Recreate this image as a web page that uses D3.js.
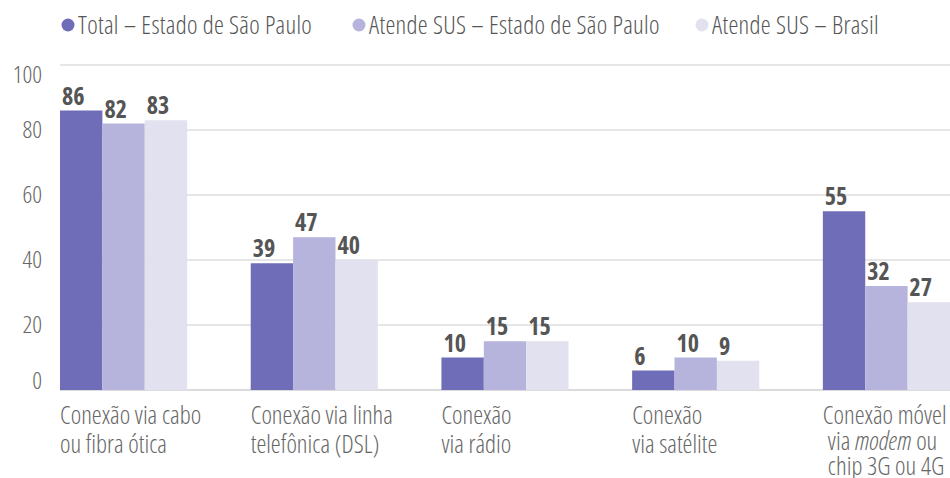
<!DOCTYPE html>
<html><head><meta charset="utf-8">
<script src="https://cdn.jsdelivr.net/npm/d3@7"></script>
<style>
html,body{margin:0;padding:0;background:#fff;}
svg text{font-family:"Open Sans",sans-serif;font-stretch:75%;font-weight:300;}
svg text.val{font-weight:700;}
</style></head>
<body>
<svg id="chart" width="950" height="478"></svg>
<script>
const categories = [
  ["Conexão via cabo", "ou fibra ótica"],
  ["Conexão via linha", "telefônica (DSL)"],
  ["Conexão", "via rádio"],
  ["Conexão", "via satélite"],
  ["Conexão móvel", "via |modem| ou", "chip 3G ou 4G"]
];
const seriesNames = ["Total – Estado de São Paulo", "Atende SUS – Estado de São Paulo", "Atende SUS – Brasil"];
const totalSP = [86, 39, 10, 6, 55];
const susSP   = [82, 47, 15, 10, 32];
const susBR   = [83, 40, 15, 9, 27];
const yTicks  = [0, 20, 40, 60, 80, 100];
const colors  = ["#6f6cb8", "#b6b4dc", "#e2e1f0"];

const series = [totalSP, susSP, susBR];
const svg = d3.select("#chart");
const x0 = d3.scaleBand().domain(d3.range(categories.length)).range([60, 950]).paddingInner(1/3).paddingOuter(0);
const x1 = d3.scaleBand().domain(d3.range(series.length)).range([0, x0.bandwidth()]);
const y = d3.scaleLinear().domain([0, 100]).range([390, 65]);

// gridlines
svg.append("g").selectAll("line").data(yTicks).join("line")
  .attr("x1", 60).attr("x2", 950)
  .attr("y1", d => y(d)).attr("y2", d => y(d))
  .attr("stroke", d => d === 0 ? "#cfcfcf" : "#dedede").attr("stroke-width", 1.5);

// y labels
svg.append("g").selectAll("text").data(yTicks).join("text")
  .attr("x", 42).attr("y", d => y(d) + (d === 100 ? 10 : d === 0 ? -9 : 0))
  .attr("dy", "0.35em").attr("text-anchor", "end")
  .attr("font-size", 24).attr("fill", "#666").text(d => d);

// bars
const groups = svg.append("g").selectAll("g").data(categories).join("g")
  .attr("transform", (d, i) => `translate(${x0(i)},0)`);
groups.each(function(c, i) {
  const g = d3.select(this);
  series.forEach((s, k) => {
    g.append("rect").attr("x", x1(k)).attr("width", x1.bandwidth())
      .attr("y", y(s[i])).attr("height", y(0) - y(s[i])).attr("fill", colors[k]);
    g.append("text").attr("class", "val").attr("x", x1(k) + 2).attr("y", y(s[i]) - 6)
      .attr("font-size", 24).attr("fill", "#555")
      .text(s[i]);
  });
  const lh = c.length > 2 ? 25.5 : 28.5;
  c.forEach((line, li) => {
    const t = g.append("text").attr("x", li > 0 && c.length > 2 ? 5 : 0).attr("y", 424 + li * lh)
      .attr("font-size", 25).attr("fill", "#666");
    line.split("|").forEach((part, pi) => {
      t.append("tspan").attr("font-style", pi % 2 ? "italic" : null).text(part);
    });
  });
});

// legend
const legX = [68, 359, 702];
const leg = svg.append("g").selectAll("g").data(seriesNames).join("g")
  .attr("transform", (d, i) => `translate(${legX[i]},25)`);
leg.append("circle").attr("r", 6.5).attr("fill", (d, i) => colors[i]);
leg.append("text").attr("x", 10).attr("dy", "0.35em").attr("font-size", 25)
  .attr("letter-spacing", 0.3).attr("fill", "#555").text(d => d);
</script>
</body></html>
